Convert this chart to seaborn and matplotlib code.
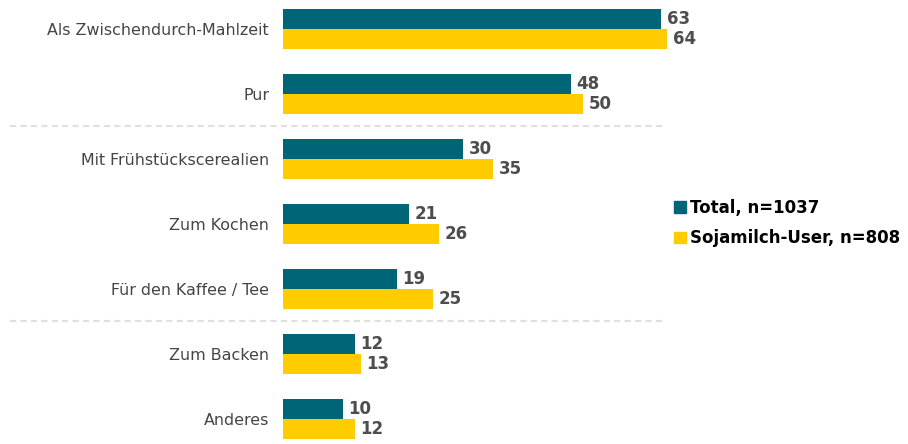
import pandas as pd
import matplotlib.pyplot as plt
import seaborn as sns

# values
categories = ["Als Zwischendurch-Mahlzeit", "Pur", "Mit Frühstückscerealien",
              "Zum Kochen", "Für den Kaffee / Tee", "Zum Backen", "Anderes"]
total = [63, 48, 30, 21, 19, 12, 10]
soja_user = [64, 50, 35, 26, 25, 13, 12]
series_names = ["Total, n=1037", "Sojamilch-User, n=808"]
colors = ["#006677", "#FFCC00"]

df = pd.DataFrame({
    "Kategorie": categories * 2,
    "Wert": total + soja_user,
    "Gruppe": [series_names[0]] * len(categories) + [series_names[1]] * len(categories),
})

sns.set_style("white")
plt.rcParams["font.family"] = ["DejaVu Sans"]

fig = plt.figure(figsize=(9.08, 4.44), dpi=100)
ax = fig.add_axes([283 / 908, 0, 1 - 283 / 908, 1])

sns.barplot(data=df, y="Kategorie", x="Wert", hue="Gruppe", orient="h",
            palette=colors, width=40 / 65, saturation=1, ax=ax, legend=False,
            linewidth=0)

ax.set_xlim(0, (908 - 283) / 6)
ax.set_ylim(6.385, -0.446)
ax.set_xlabel("")
ax.set_ylabel("")
ax.set_xticks([])
ax.tick_params(axis="y", length=0, pad=10, labelsize=11.4, labelcolor="#444444")
sns.despine(ax=ax, left=True, bottom=True)

for cont in ax.containers:
    ax.bar_label(cont, padding=4, fontsize=12, color="#4d4d4d", fontweight="bold")

# dashed separators between groups
for yy in [1.5, 4.5]:
    ax.plot([-45.5, 63.2], [yy, yy], ls=(0, (3, 2)), color="#e0e0e0", lw=1.5, clip_on=False)

handles = [plt.Rectangle((0, 0), 1, 1, color=c) for c in colors]
leg = ax.legend(handles, series_names, loc="center left",
                bbox_to_anchor=((674 - 283) / 625, 1 - 223 / 444),
                frameon=False, handlelength=0.7, handleheight=0.7,
                handletextpad=0.25, labelspacing=0.75, borderpad=0, borderaxespad=0,
                prop={"size": 12, "weight": "bold"})
for t in leg.get_texts():
    t.set_color("black")

fig.savefig("out.png", dpi=100)
